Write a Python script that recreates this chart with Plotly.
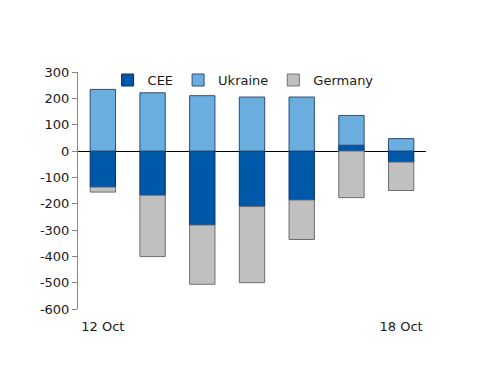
import plotly.graph_objects as go

categories = ["12 Oct", "13 Oct", "14 Oct", "15 Oct", "16 Oct", "17 Oct", "18 Oct"]
tick_labels = ["12 Oct", "", "", "", "", "", "18 Oct"]
cee = [-137, -168, -281, -211, -186, 22, -42]
ukraine = [234, 221, 210, 205, 205, 113, 47]
germany = [-19, -233, -225, -289, -150, -177, -108]
y_tick_vals = [300, 200, 100, 0, -100, -200, -300, -400, -500, -600]
y_tick_text = ["300", "200", "100", "0", "-100", "-200", "-300", "-400", "-500", "-600"]

FONT = "DejaVu Sans"

fig = go.Figure()
fig.add_trace(go.Bar(x=categories, y=cee, name="CEE",
                     marker=dict(color="#0058A8", line=dict(color="#0A2A6A", width=1))))
fig.add_trace(go.Bar(x=categories, y=ukraine, name="Ukraine",
                     marker=dict(color="#6AAEE0", line=dict(color="#2C4E78", width=1))))
fig.add_trace(go.Bar(x=categories, y=germany, name="Germany",
                     marker=dict(color="#C0C0C0", line=dict(color="#6E6E6E", width=1))))

fig.update_layout(
    barmode="relative",
    bargap=0.49,
    width=500, height=386,
    margin=dict(l=70, r=82, t=64, b=85),
    paper_bgcolor="white", plot_bgcolor="white",
    font=dict(family=FONT, size=13, color="#1a1a1a"),
    showlegend=True,
    legend=dict(orientation="h", x=0.085, y=0.966, xanchor="left", yanchor="middle",
                font=dict(size=13), bgcolor="rgba(0,0,0,0)", itemwidth=30,
                traceorder="normal"),
    xaxis=dict(type="category", tickmode="array", tickvals=categories, ticktext=tick_labels,
               showgrid=False, showline=False, ticks="", range=[-0.5, 6.5],
               tickfont=dict(size=13), ticklabelstandoff=8),
    yaxis=dict(range=[-600, 300], tickmode="array", tickvals=y_tick_vals, ticktext=y_tick_text,
               showgrid=False, showline=True, linecolor="#888888", linewidth=1,
               ticks="outside", ticklen=5, tickcolor="#888888",
               zeroline=True, zerolinecolor="#000000", zerolinewidth=1,
               tickfont=dict(size=13)),
)

fig.write_html("out.html")
